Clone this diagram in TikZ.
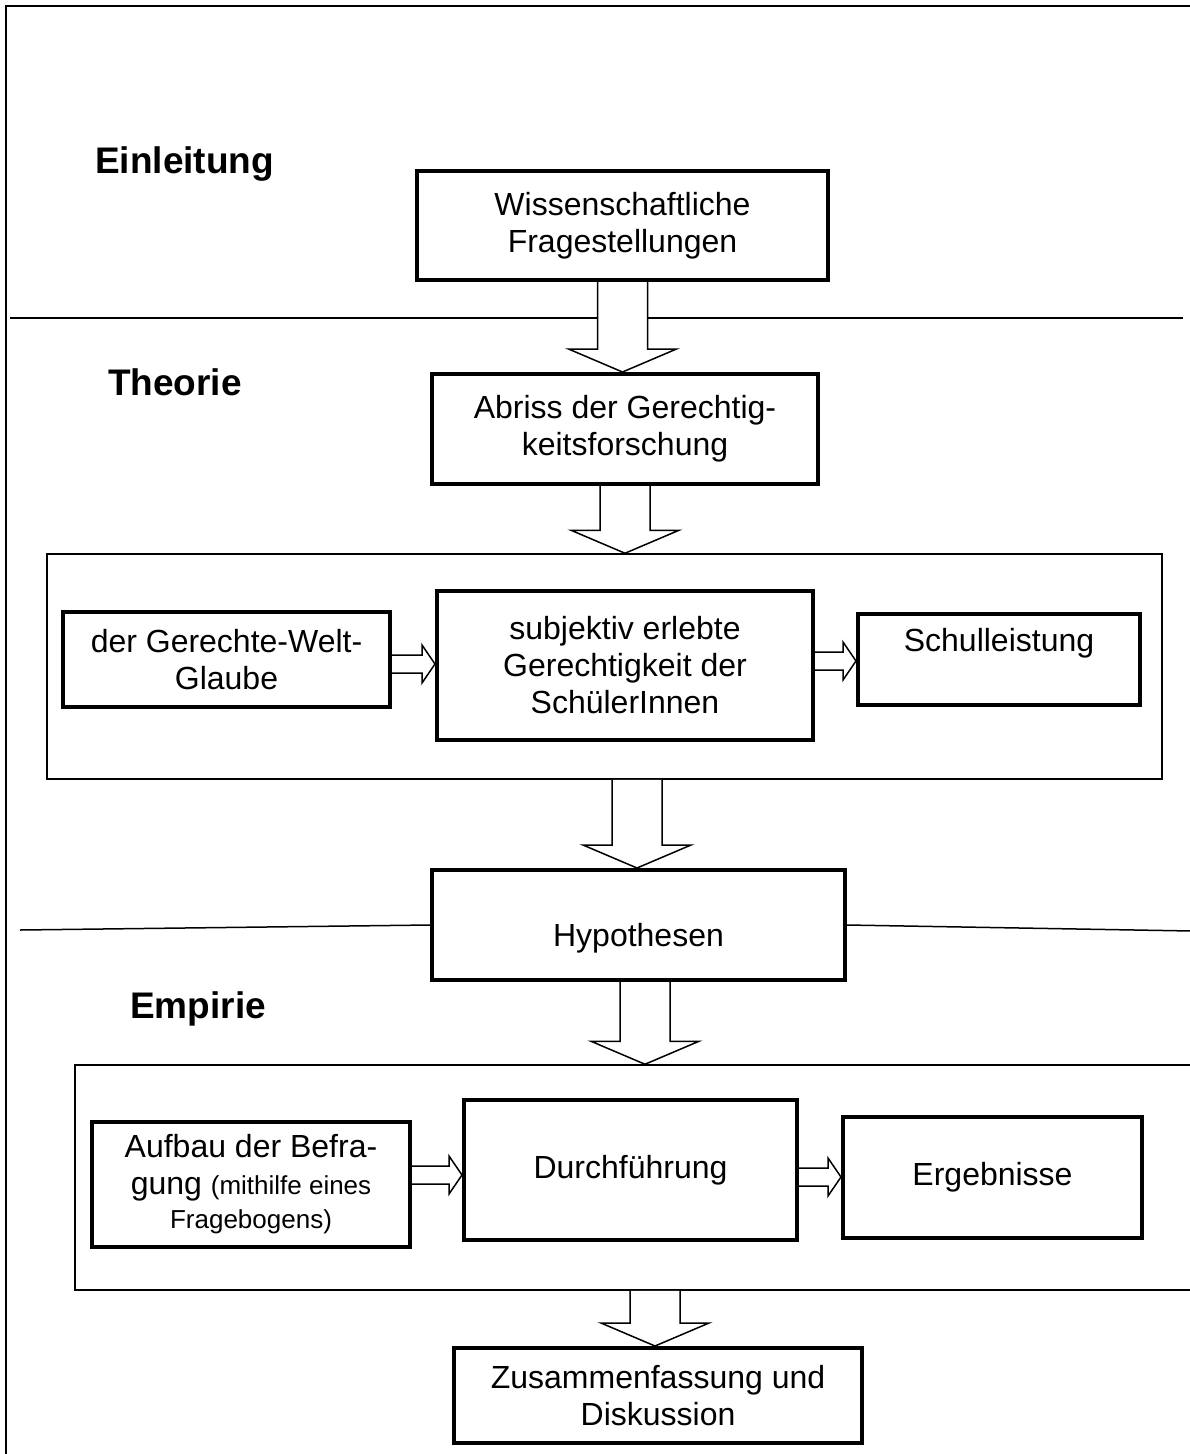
\documentclass[tikz,border=0pt]{standalone}
\usepackage{fontspec}
\setmainfont{Liberation Sans}
\usetikzlibrary{calc}
% hollow block arrows between boxes
\newcommand{\blockdown}[3]{%
  \coordinate (bs) at ($(#1.south)+(#3,0)$);
  \coordinate (be) at (bs |- #2.north);
  \draw[blockarrow] ($(bs)+(-25,0)$) -- ($(be)+(-25,-23)$) -- ($(be)+(-54,-23)$) -- (be)
    -- ($(be)+(54,-23)$) -- ($(be)+(25,-23)$) -- ($(bs)+(25,0)$);}
\newcommand{\blockright}[3]{%
  \coordinate (bs) at ($(#1.east)+(0,#3)$);
  \coordinate (be) at (bs -| #2.west);
  \draw[blockarrow] ($(bs)+(0,-9)$) -- ($(be)+(-13,-9)$) -- ($(be)+(-13,-19)$) -- (be)
    -- ($(be)+(-13,19)$) -- ($(be)+(-13,9)$) -- ($(bs)+(0,9)$);}
\newcommand{\smalltxt}{\fontsize{26}{30}\selectfont}
\begin{document}
\begin{tikzpicture}[x=1pt,y=-1pt,every node/.style={font=\fontsize{32}{37}\selectfont},
  box/.style={draw,line width=4pt,align=center,inner sep=0pt},
  group/.style={draw,line width=1.5pt,inner sep=0pt},
  heading/.style={font=\fontsize{37}{44}\selectfont\bfseries,anchor=base west,inner sep=0pt},
  rule/.style={line width=1.5pt},
  blockarrow/.style={draw,fill=white,line width=1.5pt,line join=miter}]
\useasboundingbox (0,0) rectangle (1190,1454);
% frame and section rules
\draw[line width=2.5pt] (6,1460) -- (6,6) -- (1196,6);
\coordinate (r1a) at (10,318);
\coordinate (r1b) at (1183,318);
\draw[rule] (r1a) -- (r1b);
% headings
\node[heading] (einl) at (95,173) {Einleitung};
\node[heading] (theo) at (108,395) {Theorie};
\node[heading] (empi) at (130,1018) {Empirie};
% boxes
\node[box,minimum width=411pt,minimum height=109pt] (frage) at (622.5,225.5) {Wissenschaftliche\\Fragestellungen};
\node[box,minimum width=386pt,minimum height=110pt] (abriss) at (625,429) {Abriss der Gerechtig-\\keitsforschung};
\node[group,minimum width=1115pt,minimum height=225pt] (theobox) at (604.5,666.5) {};
\node[box,minimum width=327pt,minimum height=95pt] (welt) at (226.5,659.5) {der Gerechte-Welt-\\Glaube};
\node[box,minimum width=376pt,minimum height=149pt] (subj) at (625,665.5) {subjektiv erlebte\\Gerechtigkeit der\\SchülerInnen};
\node[box,minimum width=282pt,minimum height=91pt,label={[yshift=16pt]center:Schulleistung}] (schul) at (999,659) {};
\node[box,minimum width=413pt,minimum height=110pt,label={[yshift=-13pt]center:Hypothesen}] (hypo) at (638.5,925) {};
\coordinate (r2a) at (20,930);
\coordinate (r2b) at (1192,931);
\draw[rule] (r2a) -- (hypo.west);
\draw[rule] (hypo.east) -- (r2b);
\node[group,minimum width=1140pt,minimum height=225pt] (empibox) at (645,1177.5) {};
\node[box,minimum width=318pt,minimum height=125pt] (aufbau) at (251,1184.5) {Aufbau der Befra-\\gung {\smalltxt(mithilfe eines}\\[-3pt]{\smalltxt Fragebogens)}};
\node[box,minimum width=333pt,minimum height=140pt] (durch) at (630.5,1170) {Durchführung};
\node[box,minimum width=299pt,minimum height=121pt] (ergeb) at (992.5,1177.5) {Ergebnisse};
\node[box,minimum width=408pt,minimum height=95pt] (zus) at (658,1395.5) {Zusammenfassung und\\Diskussion};
% arrows
\blockdown{frage}{abriss}{0}
\blockdown{abriss}{theobox}{0}
\blockdown{theobox}{hypo}{32.5}
\blockdown{hypo}{empibox}{6.5}
\blockdown{empibox}{zus}{10}
\blockright{welt}{subj}{4.5}
\blockright{subj}{schul}{-4.5}
\blockright{aufbau}{durch}{-9.5}
\blockright{durch}{ergeb}{7}
\end{tikzpicture}
\end{document}
